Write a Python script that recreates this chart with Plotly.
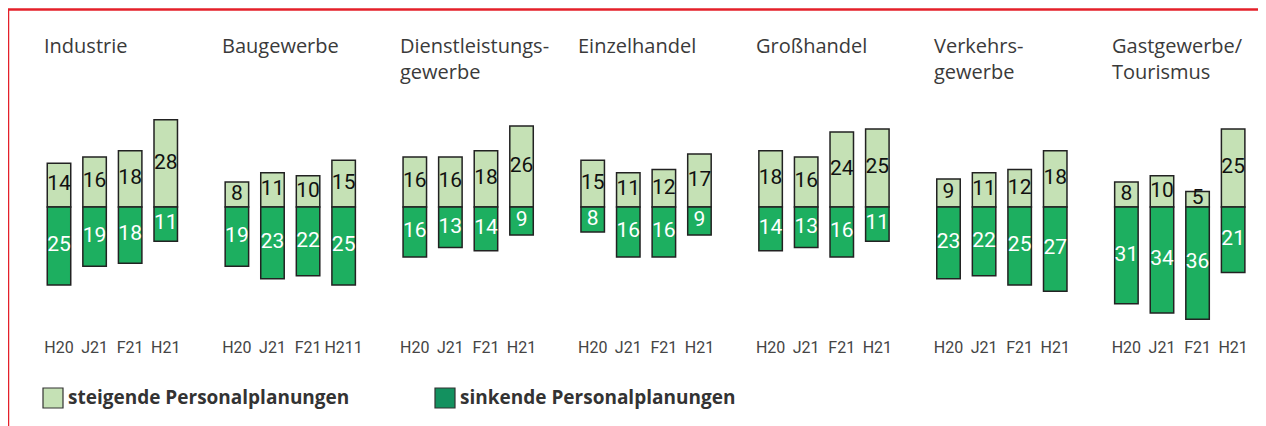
import plotly.graph_objects as go

sectors = ["Industrie", "Baugewerbe", "Dienstleistungs-<br>gewerbe", "Einzelhandel",
           "Großhandel", "Verkehrs-<br>gewerbe", "Gastgewerbe/<br>Tourismus"]
periods = ["H20", "J21", "F21", "H21"]
period_labels = [
    ["H20", "J21", "F21", "H21"],
    ["H20", "J21", "F21", "H211"],
    ["H20", "J21", "F21", "H21"],
    ["H20", "J21", "F21", "H21"],
    ["H20", "J21", "F21", "H21"],
    ["H20", "J21", "F21", "H21"],
    ["H20", "J21", "F21", "H21"],
]
steigend = [
    [14, 16, 18, 28],
    [8, 11, 10, 15],
    [16, 16, 18, 26],
    [15, 11, 12, 17],
    [18, 16, 24, 25],
    [9, 11, 12, 18],
    [8, 10, 5, 25],
]
sinkend = [
    [25, 19, 18, 11],
    [19, 23, 22, 25],
    [16, 13, 14, 9],
    [8, 16, 16, 9],
    [14, 13, 16, 11],
    [23, 22, 25, 27],
    [31, 34, 36, 21],
]

LIGHT = "#c5e1b5"
DARK = "#1daf60"
LEG_DARK = "#13915f"
EDGE = "#222222"

# page body has an 8px margin: figure coordinates = screen coordinates - OFF
OFF = 8
SW, SH = 1266, 426
W, H = SW - OFF, SH - OFF
PLOT_BOTTOM = 336 - OFF      # plot area bottom (figure px)
UNIT = 35.58                 # px per x unit
PX_PER_VAL = 3.12            # px per value unit
X0 = 59 - OFF                # first bar centre
BASE = 207 - OFF             # baseline


def px(xs):  # screen x -> paper
    return (xs - OFF) / W


def py(ys):  # screen y -> paper
    return (PLOT_BOTTOM - (ys - OFF)) / PLOT_BOTTOM


xs, up, down, ticktext = [], [], [], []
for g in range(len(sectors)):
    for i in range(len(periods)):
        xs.append(g * 5 + i)
        up.append(steigend[g][i])
        down.append(sinkend[g][i])
        ticktext.append(period_labels[g][i])

fig = go.Figure()
fig.add_trace(go.Bar(x=xs, y=up, marker=dict(color=LIGHT, line=dict(color=EDGE, width=1.5)),
                     width=0.66, name="steigende Personalplanungen", hoverinfo="skip"))
fig.add_trace(go.Bar(x=xs, y=[-v for v in down], marker=dict(color=DARK, line=dict(color=EDGE, width=1.5)),
                     width=0.66, name="sinkende Personalplanungen", hoverinfo="skip"))
fig.add_trace(go.Scatter(x=xs, y=[v / 2 for v in up], mode="text", text=[str(v) for v in up],
                         textfont=dict(family="Roboto", size=21, color="#111111"), hoverinfo="skip"))
fig.add_trace(go.Scatter(x=xs, y=[-v / 2 for v in down], mode="text", text=[str(v) for v in down],
                         textfont=dict(family="Roboto", size=21, color="#ffffff"), hoverinfo="skip"))

annotations = []
for g, name in enumerate(sectors):
    annotations.append(dict(x=g * 5 - 0.47, y=py(30), xref="x", yref="paper",
                            xanchor="left", yanchor="top", align="left", showarrow=False,
                            text=name, font=dict(family="Liberation Sans Narrow, Open Sans", size=20,
                                                 color="#3a3a3a")))

legend_items = [("steigende Personalplanungen", LIGHT, 43), ("sinkende Personalplanungen", LEG_DARK, 435)]
shapes = []
for label, col, xpx in legend_items:
    shapes.append(dict(type="rect", xref="paper", yref="paper",
                       x0=px(xpx), x1=px(xpx + 20), y0=py(408), y1=py(388),
                       fillcolor=col, line=dict(color="#333333", width=1.2)))
    annotations.append(dict(x=px(xpx + 23), y=py(397), xref="paper", yref="paper",
                            xanchor="left", yanchor="middle", showarrow=False, text="<b>" + label + "</b>",
                            font=dict(family="Open Sans", size=19, color="#333333")))

# red frame
shapes.append(dict(type="line", xref="paper", yref="paper", x0=px(8), x1=1.0,
                   y0=py(9.5), y1=py(9.5), line=dict(color="#e4202a", width=2.5)))
shapes.append(dict(type="line", xref="paper", yref="paper", x0=px(8), x1=px(8),
                   y0=py(9.5), y1=py(SH), line=dict(color="#e4202a", width=2.5)))

fig.update_layout(
    width=W, height=H, barmode="relative", showlegend=False,
    margin=dict(l=0, r=0, t=0, b=H - PLOT_BOTTOM, pad=0),
    paper_bgcolor="white", plot_bgcolor="white",
    xaxis=dict(range=[-X0 / UNIT, (W - X0) / UNIT], tickmode="array", tickvals=xs,
               ticktext=ticktext, showgrid=False, zeroline=False, showline=False, ticks="",
               tickfont=dict(family="Roboto", size=16, color="#444444"), fixedrange=True),
    yaxis=dict(range=[-(PLOT_BOTTOM - BASE) / PX_PER_VAL, BASE / PX_PER_VAL], visible=False, fixedrange=True),
    annotations=annotations, shapes=shapes,
)

fig.write_html("out.html")
